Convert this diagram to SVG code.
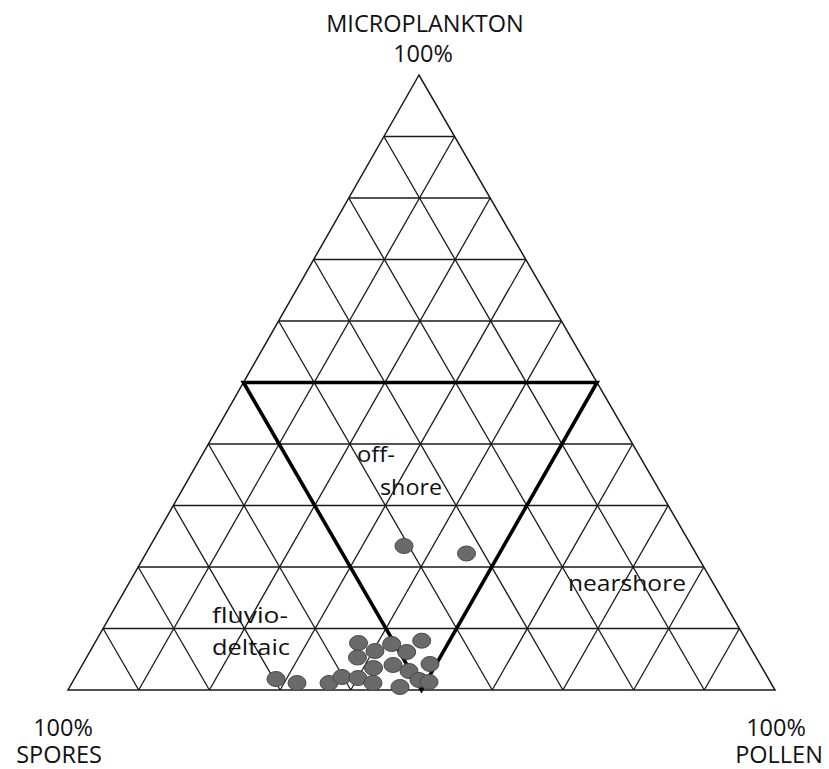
<svg xmlns="http://www.w3.org/2000/svg" width="829" height="769" viewBox="0 0 829 769">
<style>
.g{stroke:#1a1a1a;stroke-width:1.3;fill:none}
.b{stroke:#000;stroke-width:3.6;fill:none;stroke-linejoin:miter}
.t{font-family:"Open Sans","Liberation Sans",sans-serif;font-size:23.5px;fill:#111}
.l{font-family:"Open Sans","Liberation Sans",sans-serif;font-size:22.5px;fill:#111}
.d{fill:#6a6a6a;stroke:#474747;stroke-width:1}
</style>
<rect width="829" height="769" fill="#fff"/>
<g id="connectors">
<polygon class="g" points="419,75 68,690 775,690" style="stroke-width:1.5"/>
<g id="horizontal">
<line class="g" x1="103.1" y1="628.5" x2="739.4" y2="628.5"/>
<line class="g" x1="138.2" y1="567" x2="703.8" y2="567"/>
<line class="g" x1="173.3" y1="505.5" x2="668.2" y2="505.5"/>
<line class="g" x1="208.4" y1="444" x2="632.6" y2="444"/>
<line class="g" x1="278.6" y1="321" x2="561.4" y2="321"/>
<line class="g" x1="313.7" y1="259.5" x2="525.8" y2="259.5"/>
<line class="g" x1="348.8" y1="198" x2="490.2" y2="198"/>
<line class="g" x1="383.9" y1="136.5" x2="454.6" y2="136.5"/>
</g>
<g id="rising">
<line class="g" x1="138.7" y1="690" x2="454.6" y2="136.5"/>
<line class="g" x1="209.4" y1="690" x2="490.2" y2="198"/>
<line class="g" x1="280.1" y1="690" x2="525.8" y2="259.5"/>
<line class="g" x1="350.8" y1="690" x2="561.4" y2="321"/>
<line class="g" x1="421.5" y1="690" x2="597" y2="382.5"/>
<line class="g" x1="492.2" y1="690" x2="632.6" y2="444"/>
<line class="g" x1="562.9" y1="690" x2="668.2" y2="505.5"/>
<line class="g" x1="633.6" y1="690" x2="703.8" y2="567"/>
<line class="g" x1="704.3" y1="690" x2="739.4" y2="628.5"/>
</g>
<g id="falling">
<line class="g" x1="138.7" y1="690" x2="103.1" y2="628.5"/>
<line class="g" x1="209.4" y1="690" x2="138.2" y2="567"/>
<line class="g" x1="280.1" y1="690" x2="173.3" y2="505.5"/>
<line class="g" x1="350.8" y1="690" x2="208.4" y2="444"/>
<line class="g" x1="421.5" y1="690" x2="243.5" y2="382.5"/>
<line class="g" x1="492.2" y1="690" x2="278.6" y2="321"/>
<line class="g" x1="562.9" y1="690" x2="313.7" y2="259.5"/>
<line class="g" x1="633.6" y1="690" x2="348.8" y2="198"/>
<line class="g" x1="704.3" y1="690" x2="383.9" y2="136.5"/>
</g>
<polygon id="offshore-field" class="b" points="243.5,382.5 597,382.5 421.5,690"/>
</g>
<g id="axis-labels">
<text class="t" x="425" y="32" text-anchor="middle">MICROPLANKTON</text>
<text class="t" x="423" y="62" text-anchor="middle">100%</text>
<text class="t" x="63" y="736" text-anchor="middle">100%</text>
<text class="t" x="59" y="763" text-anchor="middle">SPORES</text>
<text class="t" x="776" y="736" text-anchor="middle">100%</text>
<text class="t" x="779" y="763" text-anchor="middle">POLLEN</text>
</g>
<g id="field-labels">
<text class="l" x="357" y="462" textLength="38" lengthAdjust="spacingAndGlyphs">off-</text>
<text class="l" x="380" y="495" textLength="62" lengthAdjust="spacingAndGlyphs">shore</text>
<text class="l" x="212" y="623" textLength="76" lengthAdjust="spacingAndGlyphs">fluvio-</text>
<text class="l" x="212" y="655" textLength="78" lengthAdjust="spacingAndGlyphs">deltaic</text>
<text class="l" x="568" y="591" textLength="118" lengthAdjust="spacingAndGlyphs">nearshore</text>
</g>
<g id="samples">
<ellipse class="d" cx="404" cy="546" rx="9" ry="7.5"/>
<ellipse class="d" cx="466.5" cy="553.5" rx="9" ry="7.5"/>
<ellipse class="d" cx="276" cy="679" rx="9" ry="7.5"/>
<ellipse class="d" cx="297" cy="683" rx="9" ry="7.5"/>
<ellipse class="d" cx="329" cy="683" rx="9" ry="7.5"/>
<ellipse class="d" cx="342" cy="677" rx="9" ry="7.5"/>
<ellipse class="d" cx="358" cy="678" rx="9" ry="7.5"/>
<ellipse class="d" cx="358.5" cy="643" rx="9" ry="7.5"/>
<ellipse class="d" cx="357.5" cy="657.5" rx="9" ry="7.5"/>
<ellipse class="d" cx="375" cy="651" rx="9" ry="7.5"/>
<ellipse class="d" cx="373.5" cy="668" rx="9" ry="7.5"/>
<ellipse class="d" cx="373" cy="683" rx="9" ry="7.5"/>
<ellipse class="d" cx="391.7" cy="644" rx="9" ry="7.5"/>
<ellipse class="d" cx="393" cy="665" rx="9" ry="7.5"/>
<ellipse class="d" cx="406.7" cy="652" rx="9" ry="7.5"/>
<ellipse class="d" cx="409" cy="671" rx="9" ry="7.5"/>
<ellipse class="d" cx="400" cy="687" rx="9" ry="7.5"/>
<ellipse class="d" cx="421.7" cy="640.7" rx="9" ry="7.5"/>
<ellipse class="d" cx="430" cy="664" rx="9" ry="7.5"/>
<ellipse class="d" cx="419" cy="680" rx="9" ry="7.5"/>
<ellipse class="d" cx="429" cy="682" rx="9" ry="7.5"/>
</g>
</svg>
